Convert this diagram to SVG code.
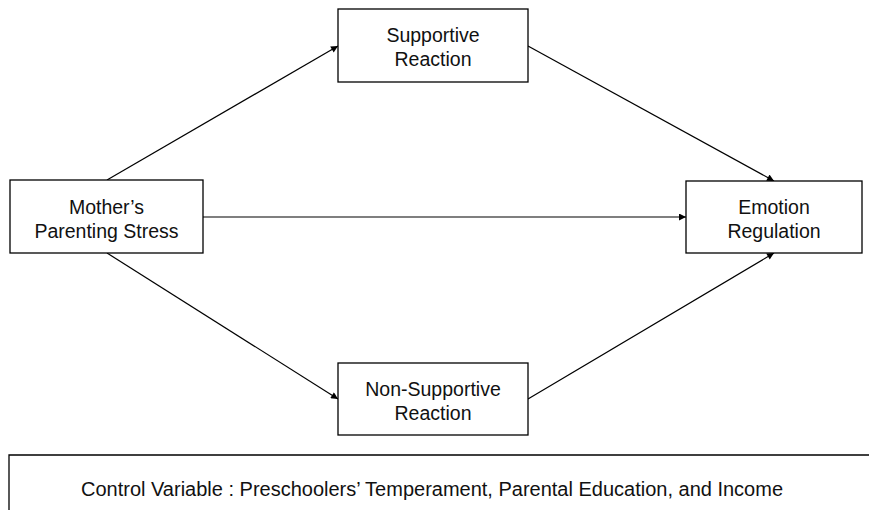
<svg xmlns="http://www.w3.org/2000/svg" width="869" height="510" viewBox="0 0 869 510">
<style>
.box{fill:#fff;stroke:#000;stroke-width:1.3}
.t{font-family:"Liberation Sans",Arial,sans-serif;font-size:19.5px;fill:#111;text-anchor:middle}
.c{stroke:#000;stroke-width:1.2;fill:none;marker-end:url(#ah)}
</style>
<defs>
<marker id="ah" viewBox="0 0 10 10" refX="10" refY="5" markerWidth="8" markerHeight="7" markerUnits="userSpaceOnUse" orient="auto">
<path d="M0,0 L10,5 L0,10 z" fill="#000"/>
</marker>
</defs>
<rect width="869" height="510" fill="#fff"/>
<g id="connectors">
<line class="c" x1="107" y1="180" x2="338" y2="46"/>
<line class="c" x1="107" y1="253" x2="338" y2="399"/>
<line class="c" x1="203" y1="217" x2="686" y2="217"/>
<line class="c" x1="528" y1="46" x2="774" y2="181"/>
<line class="c" x1="528" y1="399" x2="774" y2="253"/>
</g>
<g id="mother">
<rect class="box" x="10" y="180" width="193" height="73"/>
<text class="t" x="106.5" y="214">Mother’s</text>
<text class="t" x="106.5" y="238">Parenting Stress</text>
</g>
<g id="supportive">
<rect class="box" x="338" y="9" width="190" height="73"/>
<text class="t" x="433" y="42">Supportive</text>
<text class="t" x="433" y="66">Reaction</text>
</g>
<g id="nonsupportive">
<rect class="box" x="338" y="363" width="190" height="72"/>
<text class="t" x="433" y="396">Non-Supportive</text>
<text class="t" x="433" y="420">Reaction</text>
</g>
<g id="emotion">
<rect class="box" x="686" y="181" width="176" height="72"/>
<text class="t" x="774" y="214">Emotion</text>
<text class="t" x="774" y="238">Regulation</text>
</g>
<g id="control">
<path d="M869,455 H9 V515" fill="none" stroke="#000" stroke-width="1.3"/>
<text class="t" x="432" y="496" style="font-size:19.5px" textLength="702" lengthAdjust="spacingAndGlyphs">Control Variable : Preschoolers’ Temperament, Parental Education, and Income</text>
</g>
</svg>
